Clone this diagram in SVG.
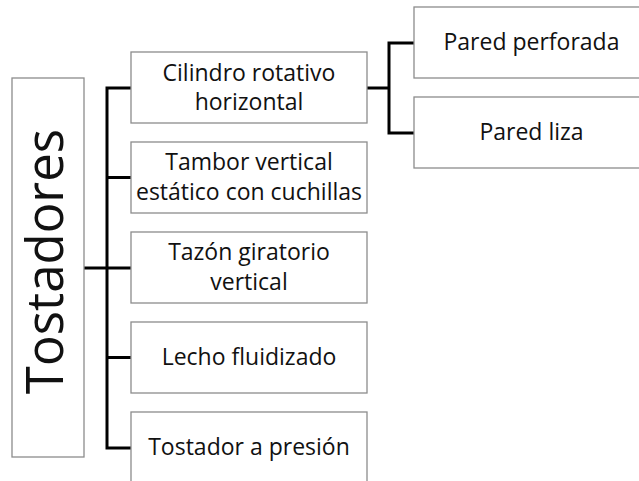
<svg xmlns="http://www.w3.org/2000/svg" width="639" height="481" viewBox="0 0 639 481">
<style>
.box{fill:#fff;stroke:#8c8c8c;stroke-width:1.3}
.t{font-family:"Open Sans","Noto Sans",sans-serif;font-size:23px;font-weight:500;fill:#111;text-anchor:middle}
.big{font-family:"Open Sans","Noto Sans",sans-serif;font-size:51px;font-weight:500;fill:#111;text-anchor:middle}
.c{fill:none;stroke:#000;stroke-width:3;stroke-linecap:butt;stroke-linejoin:miter}
</style>
<rect width="639" height="481" fill="#fff"/>
<g id="connectors">
<path class="c" d="M84,268H131"/>
<path class="c" d="M131,88H107V448H131"/>
<path class="c" d="M107,177.5H131M107,357.5H131"/>
<path class="c" d="M367,88H389"/>
<path class="c" d="M414,43H389V133H414"/>
</g>
<g id="tostadores">
<rect class="box" x="12" y="78" width="72" height="379"/>
<text class="big" transform="translate(63,261.5) rotate(-90)">Tostadores</text>
</g>
<g id="cilindro">
<rect class="box" x="131" y="52" width="236" height="71"/>
<text class="t" x="249" y="80.5">Cilindro rotativo</text>
<text class="t" x="249" y="110">horizontal</text>
</g>
<g id="tambor">
<rect class="box" x="131" y="142" width="236" height="71"/>
<text class="t" x="249" y="170">Tambor vertical</text>
<text class="t" x="249" y="199.5">estático con cuchillas</text>
</g>
<g id="tazon">
<rect class="box" x="131" y="232" width="236" height="71"/>
<text class="t" x="249" y="260">Tazón giratorio</text>
<text class="t" x="249" y="289.5">vertical</text>
</g>
<g id="lecho">
<rect class="box" x="131" y="322" width="236" height="71"/>
<text class="t" x="249" y="365">Lecho fluidizado</text>
</g>
<g id="tostador-presion">
<rect class="box" x="131" y="412" width="236" height="71"/>
<text class="t" x="249" y="455">Tostador a presión</text>
</g>
<g id="pared-perforada">
<rect class="box" x="414" y="7" width="235" height="71"/>
<text class="t" x="531.5" y="50">Pared perforada</text>
</g>
<g id="pared-liza">
<rect class="box" x="414" y="97" width="235" height="71"/>
<text class="t" x="531.5" y="140">Pared liza</text>
</g>
</svg>
